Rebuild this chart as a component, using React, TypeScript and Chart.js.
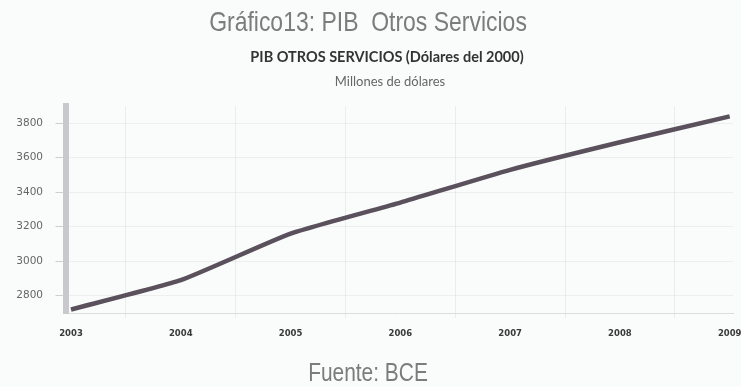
import React, { useEffect, useRef } from "react";
import { Chart, registerables } from "chart.js";

Chart.register(...registerables);

const years = [2003, 2004, 2005, 2006, 2007, 2008, 2009];
const pibOtrosServicios = [2720, 2890, 3160, 3340, 3530, 3690, 3840];
const yTicks = [2800, 3000, 3200, 3400, 3600, 3800];

const mainTitle = "Gráfico13: PIB  Otros Servicios";
const chartTitle = "PIB OTROS SERVICIOS (Dólares del 2000)";
const chartSubtitle = "Millones de dólares";
const source = "Fuente: BCE";

export default function App() {
  const ref = useRef<HTMLCanvasElement | null>(null);

  useEffect(() => {
    if (!ref.current) return;
    const xTickValues: number[] = [];
    years.forEach((y, i) => {
      xTickValues.push(y);
      if (i < years.length - 1) xTickValues.push(y + 0.5);
    });
    const chart = new Chart(ref.current, {
      type: "line",
      data: {
        datasets: [
          {
            data: years.map((y, i) => ({ x: y, y: pibOtrosServicios[i] })),
            borderColor: "#5a515c",
            borderWidth: 4.5,
            pointRadius: 0,
            tension: 0.15,
            fill: false,
          },
        ],
      },
      options: {
        responsive: false,
        animation: false,
        layout: { padding: { left: 8, right: 37, top: 106, bottom: 0 } },
        plugins: { legend: { display: false }, tooltip: { enabled: false } },
        scales: {
          x: {
            type: "linear",
            min: 2002.95,
            max: 2009.03,
            afterFit: (s: any) => {
              s.height = 74;
            },
            afterBuildTicks: (axis: any) => {
              axis.ticks = xTickValues.map((v) => ({ value: v }));
            },
            grid: {
              color: (ctx: any) =>
                ctx.tick && ctx.tick.value % 1 !== 0 ? "rgba(0,0,0,0.06)" : "rgba(0,0,0,0)",
              tickLength: 5,
            },
            border: { color: "#dcdcdc", width: 1 },
            ticks: {
              padding: 11,
              color: "#3a3a3a",
              maxRotation: 0,
              autoSkip: false,
              callback: (v: any) => (Number(v) % 1 === 0 ? String(v) : ""),
              font: { family: "DejaVu Sans", size: 8.5, weight: "bold" },
            },
          },
          y: {
            min: 2700,
            max: 3900,
            afterFit: (s: any) => {
              s.width = 57.5;
            },
            afterBuildTicks: (axis: any) => {
              axis.ticks = yTicks.map((v) => ({ value: v }));
            },
            grid: {
              color: "rgba(0,0,0,0.05)",
              tickColor: "#cfcfcf",
              tickLength: 10,
            },
            border: { color: "#c9c9cd", width: 6 },
            ticks: {
              padding: 12.5,
              color: "#666",
              callback: (v: any) => String(v),
              font: { family: "DejaVu Sans", size: 10.5 },
            },
          },
        },
      },
    });
    return () => chart.destroy();
  }, []);

  const center = (x: number, sx = 1): React.CSSProperties => ({
    position: "absolute",
    left: x,
    transform: `translateX(-50%) scaleX(${sx})`,
    whiteSpace: "pre",
    lineHeight: 1,
  });

  return (
    <div
      style={{
        position: "fixed",
        left: 0,
        top: 0,
        width: 741,
        height: 387,
        overflow: "hidden",
        background: "#fafbfb",
      }}
    >
      <canvas
        ref={ref}
        width={770}
        height={387}
        style={{ position: "absolute", left: 0, top: 0 }}
      />
      <div
        style={{
          ...center(368, 0.82),
          top: 8,
          fontFamily: "'Liberation Sans', Arial, sans-serif",
          fontSize: 28,
          color: "#7c7c7c",
        }}
      >
        {mainTitle}
      </div>
      <div
        style={{
          ...center(387),
          top: 50,
          fontFamily: "Lato, sans-serif",
          fontSize: 14.5,
          fontWeight: "bold",
          color: "#333",
        }}
      >
        {chartTitle}
      </div>
      <div
        style={{
          ...center(390),
          top: 75,
          fontFamily: "Lato, sans-serif",
          fontSize: 13,
          color: "#666",
        }}
      >
        {chartSubtitle}
      </div>
      <div
        style={{
          ...center(368, 0.82),
          top: 360,
          fontFamily: "'Liberation Sans', Arial, sans-serif",
          fontSize: 25.5,
          color: "#7c7c7c",
        }}
      >
        {source}
      </div>
    </div>
  );
}
